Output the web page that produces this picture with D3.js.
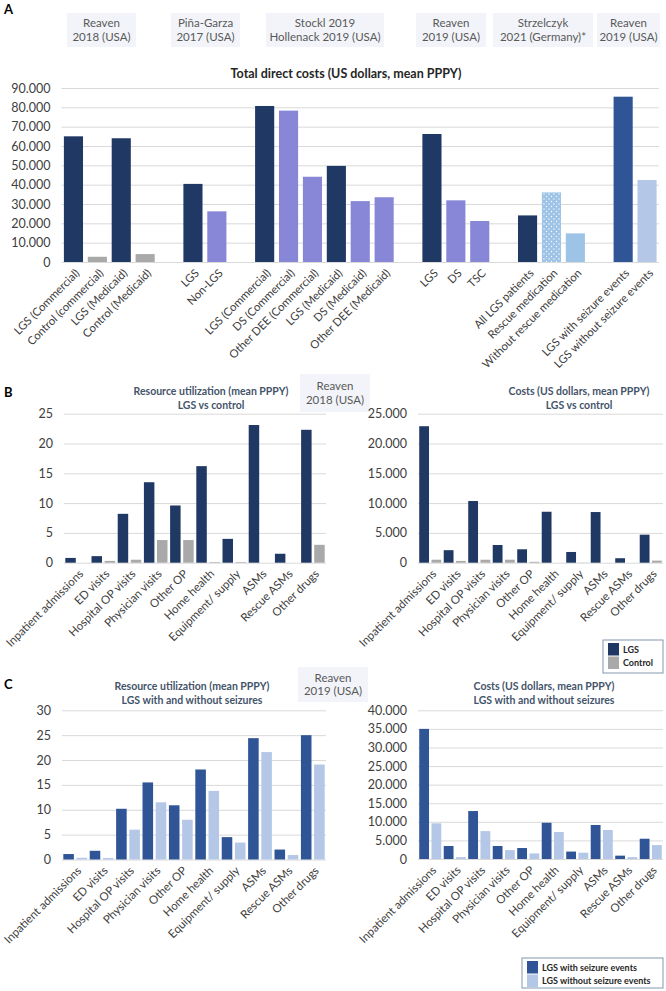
<!DOCTYPE html>
<html>
<head>
<meta charset="utf-8">
<script src="https://cdn.jsdelivr.net/npm/d3@7"></script>
<style>
  body { margin: 0; background: #fff; }
  text { font-family: Lato, "Open Sans", sans-serif; }
</style>
</head>
<body>
<script>
const WIDTH = 666;
const HEIGHT = 991;

// ---- panel A data ----
const labelsA = ["LGS (Commercial)", "Control (commercial)", "LGS (Medicaid)", "Control (Medicaid)",
  "LGS", "Non-LGS",
  "LGS (Commercial)", "DS (Commercial)", "Other DEE (Commercial)", "LGS (Medicaid)", "DS (Medicaid)", "Other DEE (Medicaid)",
  "LGS", "DS", "TSC",
  "All LGS patients", "Rescue medication", "Without rescue medication",
  "LGS with seizure events", "LGS without seizure events"];
const groupA = [0, 0, 0, 0, 1, 1, 2, 2, 2, 2, 2, 2, 3, 3, 3, 4, 4, 4, 5, 5];
const valuesA = [65000, 2700, 64000, 4100, 40400, 26200, 80700, 78300, 44100, 49700, 31500, 33500,
  66200, 31900, 21200, 24100, 36000, 14800, 85500, 42400];
const kindA = ["lgs", "ctrl", "lgs", "ctrl", "lgs", "other", "lgs", "other", "other", "lgs", "other", "other",
  "lgs", "other", "other", "lgs", "rescue", "norescue", "seiz", "noseiz"];
const studiesA = [["Reaven", "2018 (USA)"], ["Piña-Garza", "2017 (USA)"], ["Stockl 2019", "Hollenack 2019 (USA)"],
  ["Reaven", "2019 (USA)"], ["Strzelczyk", "2021 (Germany)*"], ["Reaven", "2019 (USA)"]];
const ticksA = d3.range(0, 90001, 10000);

// ---- panels B and C data ----
const cats = ["Inpatient admissions", "ED visits", "Hospital OP visits", "Physician visits", "Other OP",
  "Home health", "Equipment/ supply", "ASMs", "Rescue ASMs", "Other drugs"];
const utilB_LGS = [0.8, 1.1, 8.2, 13.5, 9.6, 16.2, 4.0, 23.1, 1.5, 22.3];
const utilB_Control = [0, 0.3, 0.5, 3.8, 3.8, 0.1, 0.1, 0, 0, 3.0];
const costB_LGS = [22900, 2100, 10350, 2970, 2250, 8550, 1800, 8500, 750, 4700];
const costB_Control = [500, 300, 500, 500, 150, 0, 30, 0, 0, 350];
const utilC_with = [1.1, 1.75, 10.2, 15.5, 10.9, 18.1, 4.5, 24.4, 2.0, 25.0];
const utilC_without = [0.35, 0.3, 6.0, 11.5, 8.0, 13.8, 3.4, 21.6, 0.9, 19.1];
const costC_with = [35000, 3500, 12900, 3500, 2950, 9750, 2000, 9150, 900, 5450];
const costC_without = [9600, 500, 7500, 2400, 1500, 7250, 1700, 7800, 500, 3750];

const COL = {
  lgs: "#203864", ctrl: "#a9a9a9", other: "#8886d6", rescue: "url(#dots)", norescue: "#9dc3e6",
  seiz: "#2f5597", noseiz: "#b4c7e7"
};
const GRID = "#d9d9d9";
const TICKCOL = "#404040";
const TITLECOL = "#44546a";

const fmt = d => d === 0 ? "0" : d3.format(",")(d).replace(/,/g, ".");

const svg = d3.select('body')
  .append('svg')
  .attr('width', WIDTH)
  .attr('height', HEIGHT);

// dotted fill for rescue medication
const pat = svg.append('defs').append('pattern')
  .attr('id', 'dots')
  .attr('patternUnits', 'userSpaceOnUse')
  .attr('width', 5).attr('height', 5);
pat.append('rect').attr('width', 5).attr('height', 5).attr('fill', '#9dc3e6');
pat.append('circle').attr('cx', 1.5).attr('cy', 1.5).attr('r', 0.7).attr('fill', '#ffffff');
pat.append('circle').attr('cx', 4).attr('cy', 4).attr('r', 0.7).attr('fill', '#ffffff');

function studyBox(x, y, w, h, lines) {
  const g = svg.append('g');
  g.append('rect').attr('x', x).attr('y', y).attr('width', w).attr('height', h).attr('fill', '#f2f4f9');
  lines.forEach((t, i) => {
    g.append('text')
      .attr('x', x + w / 2)
      .attr('y', y + h / 2 + (i - (lines.length - 1) / 2) * 13.5)
      .attr('dy', '0.35em')
      .attr('text-anchor', 'middle')
      .attr('font-size', 11.5)
      .attr('fill', '#595959')
      .text(t);
  });
}

function panelLetter(x, y, t) {
  svg.append('text').attr('x', x).attr('y', y).attr('font-size', 13).attr('font-weight', 'bold')
    .attr('fill', '#000').text(t);
}

function yAxis(y, ticks, x0, x1, fontSize) {
  const g = svg.append('g').attr('transform', `translate(${x0},0)`);
  g.call(d3.axisLeft(y).tickValues(ticks).tickFormat(fmt).tickSize(-(x1 - x0)).tickPadding(11));
  g.select('.domain').remove();
  g.selectAll('.tick line').attr('stroke', GRID).attr('stroke-width', 1);
  g.selectAll('.tick text').attr('fill', TICKCOL).attr('font-size', fontSize)
    .attr('font-family', 'Lato, sans-serif');
}

function xLabels(xpos, y0, labels, fontSize) {
  labels.forEach((t, i) => {
    svg.append('text')
      .attr('transform', `translate(${xpos(i) + 4},${y0 + 9}) rotate(-45)`)
      .attr('text-anchor', 'end')
      .attr('dy', '0.35em')
      .attr('font-size', fontSize)
      .attr('fill', TICKCOL)
      .text(t);
  });
}

function title(cx, y, lines, color, size) {
  lines.forEach((t, i) => {
    svg.append('text').attr('x', cx).attr('y', y + i * 13.5).attr('text-anchor', 'middle')
      .attr('font-size', size).attr('font-weight', 'bold').attr('fill', color).text(t);
  });
}

// ================= PANEL A =================
panelLetter(4, 14, "A");
const boxesA = [[67, 69], [171, 69], [266, 118], [416, 70], [493, 100], [597, 63]];
boxesA.forEach((b, i) => studyBox(b[0], 13, b[1], 34, studiesA[i]));
title(346, 78, ["Total direct costs (US dollars, mean PPPY)"], "#262626", 12.5);

const slotA = valuesA.map((v, i) => i + groupA[i]);
const xA = d3.scaleBand().domain(d3.range(25)).range([61.5, 659]).paddingInner(0.2).paddingOuter(0.1);
const yA = d3.scaleLinear().domain([0, 90000]).range([262, 88]);
yAxis(yA, ticksA, 61.5, 659, 12.5);

svg.append('g').selectAll('rect').data(valuesA).join('rect')
  .attr('x', (d, i) => xA(slotA[i]))
  .attr('width', xA.bandwidth())
  .attr('y', d => yA(d))
  .attr('height', d => yA(0) - yA(d))
  .attr('fill', (d, i) => COL[kindA[i]]);

xLabels(i => xA(slotA[i]) + xA.bandwidth() / 2, 262, labelsA, 11.3);

// ================= grouped panels =================
function grouped(opts) {
  const x0 = d3.scaleBand().domain(d3.range(cats.length)).range(opts.xr).paddingInner(0.1).paddingOuter(0.05);
  const x1 = d3.scaleBand().domain([0, 1]).range([0, x0.bandwidth()]).paddingInner(0.2);
  const y = d3.scaleLinear().domain([0, opts.max]).range(opts.yr);
  yAxis(y, d3.range(0, opts.max + 1e-9, opts.step), opts.xr[0], opts.xr[1], 12.5);
  [opts.s0, opts.s1].forEach((ser, k) => {
    svg.append('g').selectAll('rect').data(ser).join('rect')
      .attr('x', (d, i) => x0(i) + x1(k))
      .attr('width', x1.bandwidth())
      .attr('y', d => y(d))
      .attr('height', d => y(0) - y(d))
      .attr('fill', opts.colors[k]);
  });
  xLabels(i => x0(i) + x0.bandwidth() / 2, opts.yr[0], cats, 11.5);
  title(opts.tx, opts.ty, opts.title, TITLECOL, 10.5);
}

function legend(x, y, w, h, names, colors) {
  svg.append('rect').attr('x', x).attr('y', y).attr('width', w).attr('height', h)
    .attr('fill', '#fff').attr('stroke', '#8497b0').attr('stroke-width', 1);
  names.forEach((n, i) => {
    svg.append('rect').attr('x', x + 5).attr('y', y + 3 + i * 13.5).attr('width', 11).attr('height', 12.5)
      .attr('fill', colors[i]);
    svg.append('text').attr('x', x + 20).attr('y', y + 9.5 + i * 13.5).attr('dy', '0.35em')
      .attr('font-size', 9).attr('font-weight', 'bold').attr('fill', '#262626').text(n);
  });
}

// ================= PANEL B =================
panelLetter(4, 397, "B");
studyBox(300, 374, 70, 38, ["Reaven", "2018 (USA)"]);
grouped({ xr: [64, 326], yr: [562.7, 413.7], max: 25, step: 5, s0: utilB_LGS, s1: utilB_Control,
  colors: [COL.lgs, COL.ctrl], tx: 211, ty: 395, title: ["Resource utilization (mean PPPY)", "LGS vs control"] });
grouped({ xr: [418, 663], yr: [562.7, 413.7], max: 25000, step: 5000, s0: costB_LGS, s1: costB_Control,
  colors: [COL.lgs, COL.ctrl], tx: 579, ty: 395, title: ["Costs (US dollars, mean PPPY)", "LGS vs control"] });
legend(603, 640, 60, 33, ["LGS", "Control"], [COL.lgs, COL.ctrl]);

// ================= PANEL C =================
panelLetter(4, 689, "C");
studyBox(298, 667, 70, 35, ["Reaven", "2019 (USA)"]);
grouped({ xr: [62, 326], yr: [859.5, 710.3], max: 30, step: 5, s0: utilC_with, s1: utilC_without,
  colors: [COL.seiz, COL.noseiz], tx: 192, ty: 690, title: ["Resource utilization (mean PPPY)", "LGS with and without seizures"] });
grouped({ xr: [418, 663], yr: [859, 710.3], max: 40000, step: 5000, s0: costC_with, s1: costC_without,
  colors: [COL.seiz, COL.noseiz], tx: 544, ty: 690, title: ["Costs (US dollars, mean PPPY)", "LGS with and without seizures"] });
legend(522, 958, 141, 30, ["LGS with seizure events", "LGS without seizure events"], [COL.seiz, COL.noseiz]);
</script>
</body>
</html>
